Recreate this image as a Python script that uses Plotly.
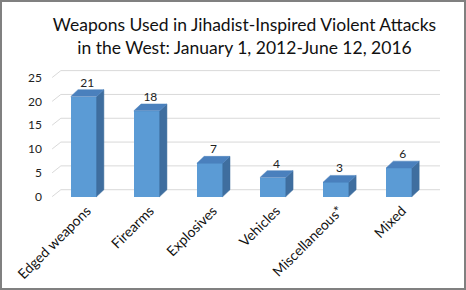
import plotly.graph_objects as go

categories = ["Edged weapons", "Firearms", "Explosives", "Vehicles", "Miscellaneous*", "Mixed"]
values = [21, 18, 7, 4, 3, 6]
y_ticks = [0, 5, 10, 15, 20, 25]

W, H = 466, 290
ML, MR, MT, MB = 49, 26, 68, 91
XR = [-0.55, 5.65]
YR = [-0.5, 27.0]
BAR_W = 0.41
DX = 0.115   # depth offset in category units
DY = 1.45    # depth offset in value units
LABEL_SHIFT = 0.05

FRONT = "#5B9BD5"
SIDE = "#3F6E9F"
TOP = "#4A80BD"
GRID = "#D9D9D9"
FONT = "Lato, sans-serif"

xs = list(range(len(categories)))
fig = go.Figure()

# back wall gridlines with left side-wall diagonal (bottom layer: x/y)
gx, gy = [], []
for v in y_ticks:
    gx += [XR[0] + 0.05, XR[0] + 0.05 + DX * 1.2, XR[1], None]
    gy += [v, v + DY, v + DY, None]
fig.add_trace(go.Scatter(x=gx, y=gy, mode="lines", line=dict(color=GRID, width=1),
                         hoverinfo="skip", showlegend=False))

# front faces (upper layer: x2/y2)
fig.add_trace(go.Bar(x=xs, y=values, width=BAR_W, marker=dict(color=FRONT, line=dict(width=0)),
                     xaxis="x2", yaxis="y2", showlegend=False))

# side and top faces
for i, v in zip(xs, values):
    r = i + BAR_W / 2
    l = i - BAR_W / 2
    fig.add_trace(go.Scatter(x=[r, r + DX, r + DX, r, r], y=[0, DY, v + DY, v, 0],
                             mode="lines", fill="toself", fillcolor=SIDE,
                             line=dict(color=SIDE, width=0.5), hoverinfo="skip",
                             xaxis="x2", yaxis="y2", showlegend=False))
    fig.add_trace(go.Scatter(x=[l, l + DX, r + DX, r, l], y=[v, v + DY, v + DY, v, v],
                             mode="lines", fill="toself", fillcolor=TOP,
                             line=dict(color=TOP, width=0.5), hoverinfo="skip",
                             xaxis="x2", yaxis="y2", showlegend=False))

# data labels
fig.add_trace(go.Scatter(x=[i + DX / 2 for i in xs], y=[v + DY for v in values],
                         mode="text", text=[str(v) for v in values], textposition="top center",
                         textfont=dict(family=FONT, size=12, color="#222222"),
                         hoverinfo="skip", xaxis="x2", yaxis="y2", showlegend=False))

fig.update_layout(
    width=W, height=H,
    margin=dict(l=ML, r=MR, t=MT, b=MB, autoexpand=False),
    paper_bgcolor="white", plot_bgcolor="white",
    title=dict(text="Weapons Used in Jihadist-Inspired Violent Attacks<br>in the West: January 1, 2012-June 12, 2016",
               x=0.5, xanchor="center", xref="paper", y=1 - 31 / H, yanchor="middle",
               font=dict(family=FONT, size=17.5, color="#111111")),
    xaxis=dict(range=XR, tickmode="array", tickvals=[i + LABEL_SHIFT for i in xs], ticktext=categories,
               tickangle=-45, showgrid=False, zeroline=False, showline=False, ticks="",
               tickfont=dict(family=FONT, size=14, color="#111111")),
    yaxis=dict(range=YR, tickmode="array", tickvals=y_ticks, showgrid=False, zeroline=False,
               showline=False, ticks="", ticklabelstandoff=6,
               tickfont=dict(family=FONT, size=12, color="#222222")),
    xaxis2=dict(range=XR, overlaying="x", visible=False),
    yaxis2=dict(range=YR, overlaying="y", visible=False),
    bargap=0,
)

pw = W - ML - MR
ph = H - MT - MB
fig.add_shape(type="rect", xref="paper", yref="paper",
              x0=(1 - ML) / pw, x1=(W - 1 - ML) / pw,
              y0=-(MB - 1) / ph, y1=1 + (MT - 1) / ph,
              line=dict(color="#808080", width=2), layer="below")

fig.write_html("out.html")
